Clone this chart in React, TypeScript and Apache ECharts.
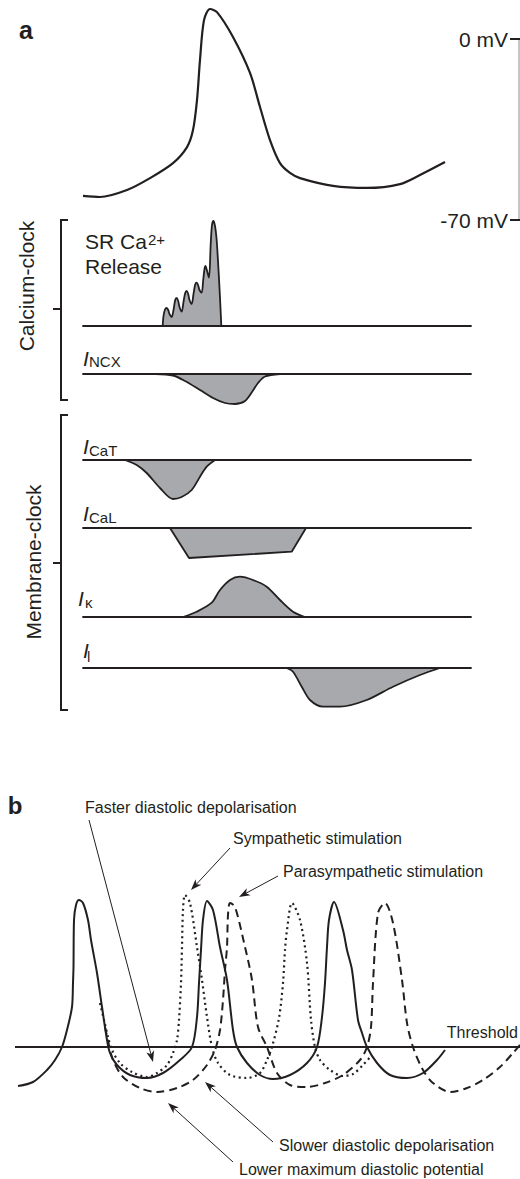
import React, { useEffect, useRef } from "react";
import * as echarts from "echarts";

// ---------- Panel a : one pacemaker cycle (time in ms from the left end of the traces) ----------
const AP_TRACE: [number, number][] = [
  [0, -60.7], [17, -61.1], [44, -58.4], [67, -53.8], [90, -48.0], [104, -41.8], [110, -35.2],
  [114, -23.6], [117, -8.1], [121, 7.3], [127, 11.6], [134, 10.4], [150, 0.8], [167, -13.1],
  [177, -26.3], [187, -39.1], [197, -48.0], [207, -51.8], [217, -53.8], [250, -56.8],
  [284, -57.6], [317, -56.1], [337, -52.6], [362, -47.6],
]; // [ms, mV]

const SR_CA_RELEASE: [number, number][] = [
  [79.7, 0], [80.5, 10], [82, 16.5], [83.7, 18], [85.2, 16], [86.5, 12], [88.7, 9], [90.5, 16],
  [92.2, 26], [93.7, 28], [95.2, 25], [96.5, 19], [98.7, 14.3], [100.5, 24], [102.2, 33],
  [103.7, 35], [105.2, 32], [106.5, 26], [108.7, 22], [110.5, 32], [112.2, 41.5], [113.7, 43.3],
  [115.2, 40.5], [116.5, 36], [118.7, 33.3], [120.2, 46], [121.5, 57], [122.5, 60], [123.8, 56],
  [126, 48.3], [127.7, 82], [129, 101], [130.5, 105], [132, 100], [133.5, 88], [135, 65],
  [137, 28.3], [138.3, 0],
]; // [ms, a.u.]

const I_NCX: [number, number][] = [
  [72, 0], [90, -1.5], [102, -7], [117, -16], [130, -24], [142, -29], [152, -30], [162, -27],
  [169, -18], [175, -9], [182, -2.5], [197, 0],
];

const I_CAT: [number, number][] = [
  [42, 0], [53.7, -5], [63.7, -13], [77, -28], [90, -39], [98.7, -37], [108.7, -30],
  [117, -16.7], [123.7, -6.7], [132, 0],
];

const I_CAL: [number, number][] = [[87, 0], [106, -30], [208.7, -23.7], [223, 0]];

const I_K: [number, number][] = [
  [100, 0], [113.7, 5.3], [128.7, 14.3], [137, 27], [147, 37], [157, 40.3], [170, 37],
  [183.7, 30.3], [197, 17], [210, 5.3], [222, 0],
];

const I_L: [number, number][] = [
  [203.7, 0], [210, -3.7], [218.7, -18.7], [227, -32], [240, -38.7], [257, -38.7],
  [283.7, -32], [310, -18.7], [337, -7], [357, 0],
];

const TRACE_SPAN_MS = 388;
const SCALE_BAR_MV = [0, -70];

// ---------- Panel b : autonomic modulation (time in ms, membrane potential in mV) ----------
const THRESHOLD_MV = -40;
const PANEL_B_SPAN_MS = 505;

const CONTROL_AP: [number, number][] = [
  [3, -55.6], [18, -54.0], [32, -49.2], [40, -45.2], [47, -40], [52, -33.2], [57, -24],
  [58, -14.4], [58.5, -8], [59, 10.8], [61, 16.8], [64, 18.8], [68, 17.6], [73, 10.8],
  [76, 2.8], [82, -10.4], [87, -24], [92, -37.2], [95, -42.4], [102, -47.2], [115, -51.2],
  [132, -52.4], [148, -50.4], [165, -45.2], [177, -40], [182, -28], [184, -14.4], [186, -1.2],
  [188, 10.8], [192, 18.4], [198, 14.8], [205, 0], [212, -13.2], [218, -33.2], [222, -40],
  [232, -46.4], [245, -51.2], [258, -52.8], [275, -51.2], [292, -46.4], [302, -40], [307, -28],
  [310, -14.4], [312, 0], [314, 10.8], [319, 18.0], [328, 6.8], [332, -1.2], [337, -9.2],
  [343, -29.2], [347, -34.4], [352, -40], [362, -46.4], [375, -51.2], [392, -52.4],
  [408, -50.4], [422, -45.2], [430, -41.2],
];

const SYMPATHETIC_AP: [number, number][] = [
  [85, -22.4], [89, -29.2], [93, -36], [97, -41.2], [105, -46.4], [117, -50], [132, -52],
  [142, -50.4], [152, -47.2], [158, -42.4], [162, -37.2], [164, -29.2], [166, -14.4], [167, 0],
  [168, 14.8], [170, 20.8], [175, 17.6], [182, 0], [187, -13.2], [192, -28], [197, -40],
  [203, -46.4], [215, -51.2], [232, -52.4], [245, -50.4], [252, -45.2], [257, -40],
  [264, -28.4], [268, -14.4], [270, -1.2], [272, 6.8], [277, 17.6], [285, 10.8], [292, -6.4],
  [296, -29.2], [300, -40], [305, -45.2], [315, -49.2], [328, -51.6], [338, -50.8],
  [348, -47.2], [357, -43.2],
];

const PARASYMPATHETIC_AP: [number, number][] = [
  [90, -32], [94, -39.2], [98, -45.2], [108, -52], [125, -56.4], [142, -58], [162, -56.4],
  [178, -53.2], [192, -47.2], [200, -41.2], [205, -33.2], [208, -21.2], [210, -9.2], [212, 0],
  [213, 12.8], [215, 17.6], [220, 16], [230, 0], [237, -13.2], [243, -32], [252, -40],
  [262, -50.4], [275, -55.2], [292, -56], [310, -54.4], [328, -51.2], [345, -45.2], [352, -40],
  [356, -32], [358, -14.4], [363, 13.6], [370, 17.6], [378, 9.6], [387, -13.2], [392, -30.4],
  [398, -40], [408, -49.2], [418, -54.4], [435, -58], [452, -56.4], [468, -53.2], [485, -48],
  [498, -42.4], [505, -39.2],
];

// ---------- styling ----------
const INK = "#231f20";
const FILL = "#a7a9ac";
const FONT = "'Liberation Sans', Arial, Helvetica, sans-serif";

type TxtOpts = { bold?: boolean; italic?: boolean; align?: string; rotation?: number };
function txt(text: string, x: number, y: number, size: number, o: TxtOpts = {}) {
  const align = o.align || "left";
  return {
    type: "text",
    x,
    y,
    rotation: o.rotation || 0,
    silent: true,
    style: {
      text,
      fontSize: size,
      fontFamily: FONT,
      fontWeight: o.bold ? "bold" : "normal",
      fontStyle: o.italic ? "italic" : "normal",
      fill: INK,
      align,
      textAlign: align,
      verticalAlign: "middle",
      textVerticalAlign: "middle",
    },
  };
}

function arrow(x1: number, y1: number, x2: number, y2: number) {
  const dx = x2 - x1, dy = y2 - y1;
  const len = Math.hypot(dx, dy);
  const ux = dx / len, uy = dy / len;
  const nx = -uy, ny = ux;
  const L = 11, W = 4, N = 3;
  const bx = x2 - ux * L, by = y2 - uy * L;
  const mx = x2 - ux * (L - N), my = y2 - uy * (L - N);
  return [
    { type: "line", silent: true, shape: { x1, y1, x2: mx, y2: my }, style: { stroke: INK, lineWidth: 1 } },
    {
      type: "polygon",
      silent: true,
      shape: { points: [[x2, y2], [bx + nx * W, by + ny * W], [mx, my], [bx - nx * W, by - ny * W]] },
      style: { fill: INK },
    },
  ];
}

function bracket(top: number, bottom: number, mid: number) {
  return [
    {
      type: "polyline",
      silent: true,
      shape: { points: [[68, top], [61, top], [61, bottom], [68, bottom]] },
      style: { stroke: INK, lineWidth: 2, fill: "none" },
    },
    { type: "line", silent: true, shape: { x1: 53, y1: mid, x2: 61, y2: mid }, style: { stroke: INK, lineWidth: 2 } },
  ];
}

// trace grids for panel a : [top, height, yMin, yMax]
const TRACE_LAYOUT: [number, number, number, number][] = [
  [39, 181, -70, 0], // AP
  [216, 120, -10, 110], // SR Ca release
  [354, 60, -40, 20], // INCX
  [440, 70, -50, 20], // ICaT
  [508, 60, -40, 20], // ICaL
  [567, 60, -10, 50], // IK
  [648, 70, -50, 20], // Il
];
const CURRENTS = [SR_CA_RELEASE, I_NCX, I_CAT, I_CAL, I_K, I_L];

const STATIC_GRAPHICS: any[] = [
  txt("a", 26, 30, 25, { bold: true, align: "center" }),
  txt("Calcium-clock", 26, 286, 21, { align: "center", rotation: Math.PI / 2 }),
  txt("Membrane-clock", 33, 562, 21, { align: "center", rotation: Math.PI / 2 }),
  ...bracket(220, 400, 309),
  ...bracket(415, 710, 563),
  txt("SR Ca", 85, 241, 21),
  txt("2+", 148, 239, 15),
  txt("Release", 85, 266, 21),
  txt("I", 83, 358, 21, { italic: true }),
  txt("NCX", 89, 361, 15),
  txt("I", 83, 446, 21, { italic: true }),
  txt("CaT", 89, 450, 15),
  txt("I", 83, 513, 21, { italic: true }),
  txt("CaL", 89, 517, 15),
  txt("I", 78, 598, 21, { italic: true }),
  txt("\u03ba", 85, 602, 15),
  txt("I", 83, 650, 21, { italic: true }),
  txt("l", 87, 656, 15),
  txt("b", 15, 805, 24, { bold: true, align: "center" }),
  txt("Faster diastolic depolarisation", 85, 807, 16),
  txt("Sympathetic stimulation", 233, 838, 16),
  txt("Parasympathetic stimulation", 283, 871, 16),
  txt("Threshold", 518, 1032, 16, { align: "right" }),
  txt("Slower diastolic depolarisation", 279, 1145, 16),
  txt("Lower maximum diastolic potential", 239, 1169, 16),
  ...arrow(89, 820, 153, 1062),
  ...arrow(230, 848, 191, 890),
  ...arrow(278, 876, 239, 897),
  ...arrow(273, 1142, 205, 1082),
  ...arrow(233, 1162, 168, 1103),
];

function buildOption() {
  const grids: any[] = TRACE_LAYOUT.map(([top, height]) => ({ left: 83, width: 388, top, height }));
  grids.push({ left: 15, width: 505, top: 897, height: 200 });

  const xAxes: any[] = TRACE_LAYOUT.map((_, i) => ({
    gridIndex: i,
    type: "value",
    min: 0,
    max: TRACE_SPAN_MS,
    show: i > 0,
    z: 3,
    axisLine: { show: true, onZero: true, lineStyle: { color: INK, width: 1.8 } },
    axisTick: { show: false },
    axisLabel: { show: false },
    splitLine: { show: false },
  }));
  xAxes.push({ gridIndex: 7, type: "value", min: 0, max: PANEL_B_SPAN_MS, show: false });

  const yAxes: any[] = TRACE_LAYOUT.map(([, , min, max], i) => ({
    gridIndex: i,
    type: "value",
    min,
    max,
    show: false,
  }));
  yAxes.push({ gridIndex: 7, type: "value", min: -60, max: 20, show: false });

  const series: any[] = [
    {
      type: "line",
      xAxisIndex: 0,
      yAxisIndex: 0,
      data: AP_TRACE,
      symbol: "none",
      smooth: 0.3,
      clip: false,
      lineStyle: { color: INK, width: 2.2 },
    },
  ];
  CURRENTS.forEach((d, k) => {
    series.push({
      type: "line",
      xAxisIndex: k + 1,
      yAxisIndex: k + 1,
      data: d,
      symbol: "none",
      smooth: d === I_CAL ? false : 0.3,
      clip: false,
      lineStyle: { color: INK, width: 1.8 },
      areaStyle: { color: FILL, opacity: 1 },
    });
  });
  series.push(
    {
      type: "line",
      xAxisIndex: 7,
      yAxisIndex: 7,
      data: CONTROL_AP,
      symbol: "none",
      smooth: 0.3,
      clip: false,
      lineStyle: { color: INK, width: 2 },
      markLine: {
        silent: true,
        symbol: "none",
        label: { show: false },
        lineStyle: { color: INK, width: 2, type: "solid" },
        data: [{ yAxis: THRESHOLD_MV }],
      },
    },
    {
      type: "line",
      xAxisIndex: 7,
      yAxisIndex: 7,
      data: SYMPATHETIC_AP,
      symbol: "none",
      smooth: 0.3,
      clip: false,
      lineStyle: { color: INK, width: 2.2, type: [2, 3.5] },
    },
    {
      type: "line",
      xAxisIndex: 7,
      yAxisIndex: 7,
      data: PARASYMPATHETIC_AP,
      symbol: "none",
      smooth: 0.3,
      clip: false,
      lineStyle: { color: INK, width: 2, type: [8, 5] },
    }
  );

  return {
    animation: false,
    backgroundColor: "#ffffff",
    grid: grids,
    xAxis: xAxes,
    yAxis: yAxes,
    series,
  };
}

function scaleBarGraphics(chart: echarts.ECharts) {
  const barX = 519;
  const ys = SCALE_BAR_MV.map((v) => chart.convertToPixel({ yAxisIndex: 0 }, v) as number);
  const out: any[] = [
    {
      type: "line",
      silent: true,
      shape: { x1: barX, y1: ys[0], x2: barX, y2: ys[1] },
      style: { stroke: "#8c8c8c", lineWidth: 1 },
    },
  ];
  SCALE_BAR_MV.forEach((v, i) => {
    out.push({
      type: "line",
      silent: true,
      shape: { x1: barX - 9, y1: ys[i], x2: barX + 1, y2: ys[i] },
      style: { stroke: INK, lineWidth: 2 },
    });
    out.push(txt(`${v} mV`, barX - 11, ys[i], 21, { align: "right" }));
  });
  return out;
}

export default function App() {
  const ref = useRef<HTMLDivElement>(null);
  useEffect(() => {
    document.body.style.margin = "0";
    const chart = echarts.init(ref.current!, undefined, { renderer: "svg" });
    chart.setOption(buildOption() as any);
    chart.setOption({ graphic: { elements: [...STATIC_GRAPHICS, ...scaleBarGraphics(chart)] } } as any);
    return () => chart.dispose();
  }, []);
  return (
    <div
      ref={ref}
      style={{ position: "absolute", left: 0, top: 0, width: 520, height: 1179, background: "#fff" }}
    />
  );
}
